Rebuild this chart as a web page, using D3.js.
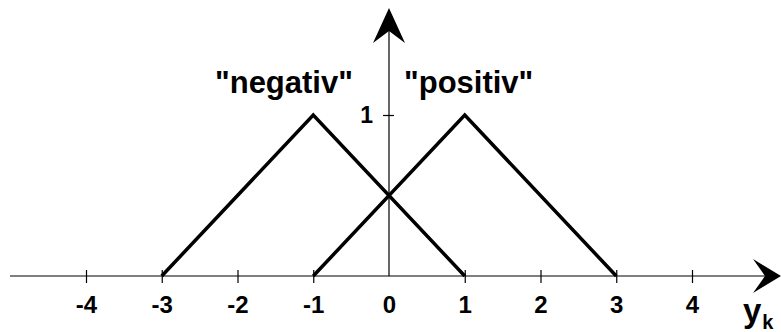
<!DOCTYPE html>
<html>
<head>
<meta charset="utf-8">
<script src="https://cdn.jsdelivr.net/npm/d3@7"></script>
<style>
  body { margin: 0; background: #fff; }
  text { font-family: "Liberation Sans", Arial, Helvetica, sans-serif; font-weight: bold; fill: #000; }
</style>
</head>
<body>
<div id="chart"></div>
<script>
// data
var xTicks = [-4, -3, -2, -1, 0, 1, 2, 3, 4];
var yTicks = [1];
var negativ = [[-3, 0], [-1, 1], [1, 0]];
var positiv = [[-1, 0], [1, 1], [3, 0]];
var setNames = ['"negativ"', '"positiv"'];
var axisName = "y";
var axisSub = "k";

var width = 781, height = 332;

var svg = d3.select("#chart")
    .append("svg")
    .attr("width", width)
    .attr("height", height);

// scales
var x = d3.scaleLinear().domain([-4, 4]).range([86, 692]);
var y = d3.scaleLinear().domain([0, 1]).range([276, 115]);

// x axis line with arrow
svg.append("line")
    .attr("x1", 10).attr("x2", 770)
    .attr("y1", y(0)).attr("y2", y(0))
    .attr("stroke", "#000").attr("stroke-width", 1.2);
svg.append("path")
    .attr("d", "M781," + y(0) + " L753," + (y(0) - 17) + " L765," + y(0) + " L753," + (y(0) + 17) + "Z")
    .attr("fill", "#000");

// y axis line with arrow
svg.append("line")
    .attr("x1", x(0)).attr("x2", x(0))
    .attr("y1", y(0)).attr("y2", 20)
    .attr("stroke", "#000").attr("stroke-width", 1.2);
svg.append("path")
    .attr("d", "M" + x(0) + ",8 L" + (x(0) - 16) + ",43 L" + x(0) + ",31 L" + (x(0) + 16) + ",43Z")
    .attr("fill", "#000");

// x ticks
var gx = svg.append("g")
    .attr("transform", "translate(0," + y(0) + ")")
    .call(d3.axisBottom(x).tickValues(xTicks).tickSize(7).tickPadding(16).tickFormat(d3.format("d")));
gx.select(".domain").remove();
gx.selectAll(".tick line").attr("y1", -6).attr("stroke-width", 1.2);
gx.selectAll(".tick").filter(function (d) { return d === 0; }).select("line").remove();
gx.selectAll(".tick text")
    .attr("font-size", 24)
    .attr("font-family", null)
    .attr("y", 37)
    .attr("dy", 0)
    .text(function (d) { return d < 0 ? "-" + Math.abs(d) : d; });

// y ticks
var gy = svg.append("g")
    .attr("transform", "translate(" + x(0) + ",0)")
    .call(d3.axisLeft(y).tickValues(yTicks).tickSize(6).tickPadding(10).tickFormat(d3.format("d")));
gy.select(".domain").remove();
gy.selectAll(".tick line").attr("x1", 5).attr("stroke-width", 1.2);
gy.selectAll(".tick text")
    .attr("font-size", 23)
    .attr("font-family", null);

// membership functions
var line = d3.line()
    .x(function (d) { return x(d[0]); })
    .y(function (d) { return y(d[1]); });

[negativ, positiv].forEach(function (s) {
    svg.append("path")
        .datum(s)
        .attr("fill", "none")
        .attr("stroke", "#000")
        .attr("stroke-width", 3.5)
        .attr("stroke-linejoin", "miter")
        .attr("d", line);
});

// set labels
svg.append("text").attr("x", 215).attr("y", 93).attr("font-size", 31).text(setNames[0]);
svg.append("text").attr("x", 404).attr("y", 93).attr("font-size", 31).text(setNames[1]);

// axis name y_k
var an = svg.append("text").attr("x", 743).attr("y", 322).attr("font-size", 33);
an.append("tspan").text(axisName);
an.append("tspan").attr("font-size", 20).attr("dy", 7).attr("dx", 1).text(axisSub);
</script>
</body>
</html>
